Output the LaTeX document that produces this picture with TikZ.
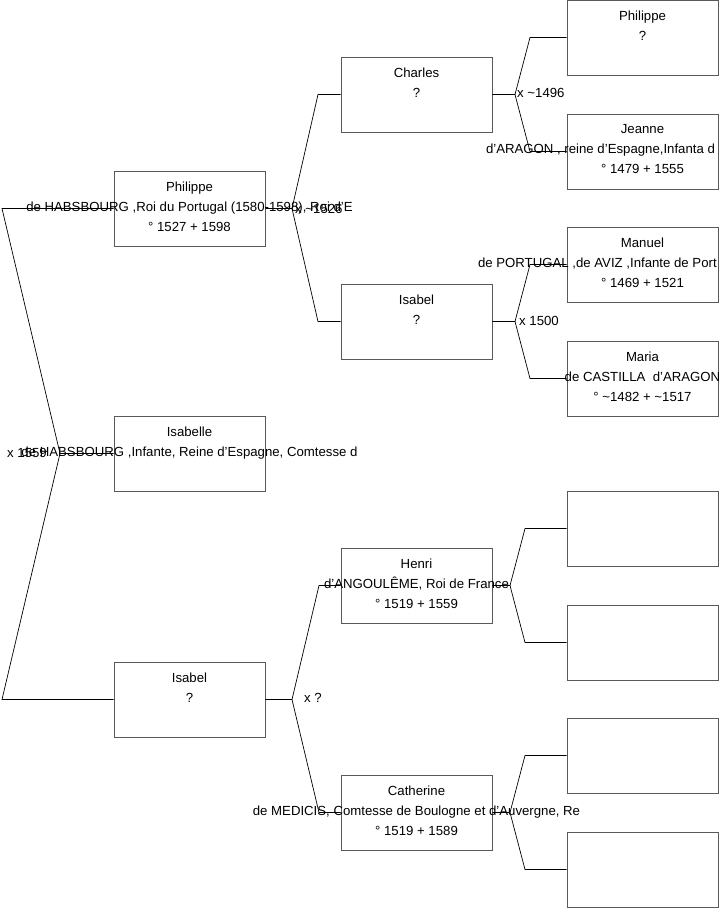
\documentclass[tikz,border=0pt]{standalone}
\usepackage{fontspec}
\setmainfont{Liberation Sans}
\usetikzlibrary{positioning}

\begin{document}
\begin{tikzpicture}[x=1pt,y=-1pt,
  pbox/.style={draw=black!65,line width=0.8pt,minimum width=151pt,minimum height=75pt,inner sep=0pt},
  ptext/.style={inner sep=0pt,align=center,font=\fontsize{13.2}{20}\selectfont},
  marr/.style={anchor=west,inner sep=0pt,font=\fontsize{13.2}{15}\selectfont},
  link/.style={line width=0.7pt}]
\useasboundingbox (0,0) rectangle (719,908);
\clip (0,0) rectangle (719,908);

% generation 1
\node[pbox] (phil) at (189.5,208.5) {};
\node[pbox] (isab) at (189.5,453.5) {};
\node[pbox] (isabm) at (189.5,699.5) {};
\node[ptext,below=11pt of phil.north] (philT) {Philippe\\de HABSBOURG ,Roi du Portugal (1580-1598), Roi d'E\\° 1527 + 1598};
\node[ptext,below=11pt of isab.north] (isabT) {Isabelle\\de HABSBOURG ,Infante, Reine d'Espagne, Comtesse d};
\node[ptext,below=11pt of isabm.north] (isabmT) {Isabel\\?};

% generation 2
\node[pbox] (charles) at (416.5,94.5) {};
\node[pbox] (isabel) at (416.5,321.5) {};
\node[pbox] (henri) at (416.5,585.5) {};
\node[pbox] (cath) at (416.5,812.5) {};
\node[ptext,below=11pt of charles.north] (charlesT) {Charles\\?};
\node[ptext,below=11pt of isabel.north] (isabelT) {Isabel\\?};
\node[ptext,below=11pt of henri.north] (henriT) {Henri\\d'ANGOULÊME, Roi de France\\° 1519 + 1559};
\node[ptext,below=11pt of cath.north] (cathT) {Catherine\\de MEDICIS, Comtesse de Boulogne et d'Auvergne, Re\\° 1519 + 1589};

% generation 3
\node[pbox] (philp) at (642.5,37.5) {};
\node[pbox] (jeanne) at (642.5,151.5) {};
\node[pbox] (manuel) at (642.5,264.5) {};
\node[pbox] (maria) at (642.5,378.5) {};
\node[pbox] (e1) at (642.5,528.5) {};
\node[pbox] (e2) at (642.5,642.5) {};
\node[pbox] (e3) at (642.5,755.5) {};
\node[pbox] (e4) at (642.5,869.5) {};
\node[ptext,below=11pt of philp.north] (philpT) {Philippe\\?};
\node[ptext,below=11pt of jeanne.north] (jeanneT) {Jeanne\\\makebox[313pt][l]{d'ARAGON , reine d'Espagne,Infanta d}\\° 1479 + 1555};
\node[ptext,below=11pt of manuel.north] (manuelT) {Manuel\\\makebox[329pt][l]{de PORTUGAL ,de AVIZ ,Infante de Port}\\° 1469 + 1521};
\node[ptext,below=11pt of maria.north] (mariaT) {Maria\\de CASTILLA\ \ d'ARAGON\\° \textasciitilde1482 + \textasciitilde1517};

% connectors
\coordinate (v0) at (60,453.5);
\coordinate (a0) at (2,208.5);
\coordinate (b0) at (2,699.5);
\draw[link] (isab.west) -- (v0) -- (a0) -- (phil.west);
\draw[link] (v0) -- (b0) -- (isabm.west);

\coordinate (v1) at (292,208.5);
\coordinate (a1) at (318,94.5);
\coordinate (b1) at (318,321.5);
\draw[link] (phil.east) -- (v1) -- (a1) -- (charles.west);
\draw[link] (v1) -- (b1) -- (isabel.west);

\coordinate (v2) at (292,699.5);
\coordinate (a2) at (319,585.5);
\coordinate (b2) at (319,812.5);
\draw[link] (isabm.east) -- (v2) -- (a2) -- (henri.west);
\draw[link] (v2) -- (b2) -- (cath.west);

\coordinate (v3) at (515,94.5);
\coordinate (a3) at (530,37.5);
\coordinate (b3) at (530,151.5);
\draw[link] (charles.east) -- (v3) -- (a3) -- (philp.west);
\draw[link] (v3) -- (b3) -- (jeanne.west);

\coordinate (v4) at (515,321.5);
\coordinate (a4) at (530,264.5);
\coordinate (b4) at (530,378.5);
\draw[link] (isabel.east) -- (v4) -- (a4) -- (manuel.west);
\draw[link] (v4) -- (b4) -- (maria.west);

\coordinate (v5) at (510,585.5);
\coordinate (a5) at (525,528.5);
\coordinate (b5) at (525,642.5);
\draw[link] (henri.east) -- (v5) -- (a5) -- (e1.west);
\draw[link] (v5) -- (b5) -- (e2.west);

\coordinate (v6) at (510,812.5);
\coordinate (a6) at (525,755.5);
\coordinate (b6) at (525,869.5);
\draw[link] (cath.east) -- (v6) -- (a6) -- (e3.west);
\draw[link] (v6) -- (b6) -- (e4.west);

% marriages
\node[marr] (m0) at (7,453) {x 1559};
\node[marr] (m1) at (295,208.5) {x \textasciitilde1526};
\node[marr] (m2) at (517,93) {x \textasciitilde1496};
\node[marr] (m3) at (519,321) {x 1500};
\node[marr] (m4) at (304,698) {x ?};
\end{tikzpicture}
\end{document}
